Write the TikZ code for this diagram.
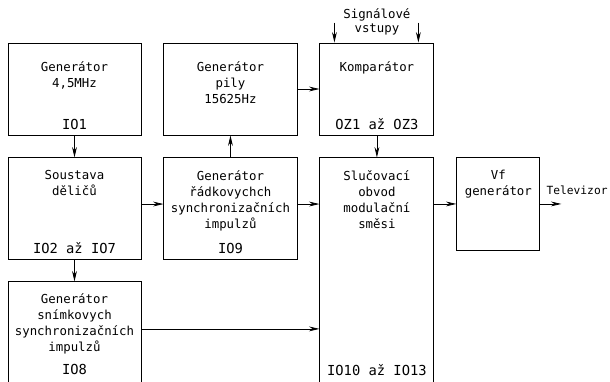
\documentclass[tikz,border=0pt]{standalone}
\usepackage{fontspec}
\newfontfamily\cadfont{DejaVu Sans Mono}
\usetikzlibrary{positioning,arrows.meta}

\begin{document}
\begin{tikzpicture}[
    x=0.025cm, y=-0.025cm,
    box/.style={rectangle, draw=black, line width=0.65pt, minimum width=3.325cm, minimum height=2.3cm, inner sep=0pt},
    txt/.style={font=\cadfont\fontsize{8.8}{11.4}\selectfont, align=center, inner sep=0pt, anchor=north},
    num/.style={font=\cadfont\fontsize{9.8}{12}\selectfont, inner sep=0pt, anchor=base},
    arrow/.style={-{Stealth[length=2.6mm, width=1.2mm]}, line width=0.55pt},
]
\useasboundingbox (0,0) rectangle (610,381);
\clip (0,0) rectangle (610,381);

% Top row
\node[box] (gen45) at (74.5,89) {};
\node[box, right=0.55cm of gen45] (pily) {};
\node[box, right=0.55cm of pily, minimum width=2.85cm] (komp) {};

% Middle row
\node[box, below=0.55cm of gen45, minimum height=2.525cm] (delice) {};
\node[box, below=0.55cm of pily, minimum height=2.525cm] (radkove) {};
\node[box, below=0.55cm of komp, minimum width=2.85cm, minimum height=5.875cm] (slucovac) {};
\node[box, right=0.55cm of slucovac.north east, anchor=north west, minimum width=2.075cm] (vf) {};

% Bottom row
\node[box, below=0.55cm of delice, minimum height=2.8cm] (snimkove) {};

% Texts in the boxes
\node[txt] (gen45t) at ([yshift=-0.46cm]gen45.north) {Generátor\\4,5MHz};
\node[num] (gen45n) at ([yshift=0.16cm]gen45.south) {IO1};

\node[txt] (pilyt) at ([yshift=-0.46cm]pily.north) {Generátor\\pily\\15625Hz};

\node[txt] (kompt) at ([yshift=-0.46cm]komp.north) {Komparátor};
\node[num] (kompn) at ([yshift=0.16cm]komp.south) {OZ1 až OZ3};

\node[txt] (delicet) at ([yshift=-0.31cm]delice.north) {Soustava\\děličů};
\node[num] (delicen) at ([yshift=0.16cm]delice.south) {IO2 až IO7};

\node[txt] (radkovet) at ([yshift=-0.31cm]radkove.north) {Generátor\\řádkovychch\\synchronizačních\\impulzů};
\node[num] (radkoven) at ([yshift=0.16cm]radkove.south) {IO9};

\node[txt] (snimkovet) at ([yshift=-0.29cm]snimkove.north) {Generátor\\snímkovych\\synchronizačních\\impulzů};
\node[num] (snimkoven) at ([yshift=-2.325cm]snimkove.north) {IO8};

\node[txt] (slucovact) at ([yshift=-0.31cm]slucovac.north) {Slučovací\\obvod\\modulační\\směsi};
\node[num] (slucovacn) at ([yshift=-5.45cm]slucovac.north) {IO10 až IO13};

\node[txt] (vft) at ([yshift=-0.31cm]vf.north) {Vf\\generátor};

% Signal inputs
\coordinate (vstup1) at ([xshift=0.375cm, yshift=0.5cm]komp.north west);
\coordinate (vstup2) at ([xshift=-0.4cm, yshift=0.5cm]komp.north east);
\node[txt, font=\cadfont\fontsize{8.8}{10}\selectfont] (signaly) at ([yshift=0.85cm]komp.north) {Signálové\\vstupy};

% Output
\coordinate (tv) at ([xshift=0.525cm]vf.east);
\node[txt, anchor=base west, font=\cadfont\fontsize{8}{10}\selectfont] (tvt) at ([xshift=0.15cm, yshift=0.225cm]vf.east) {Televizor};

% Arrows
\draw[arrow] (vstup1) -- (vstup1 |- komp.north);
\draw[arrow] (vstup2) -- (vstup2 |- komp.north);
\draw[arrow] (gen45) -- (delice);
\draw[arrow] (radkove) -- (pily);
\draw[arrow] (pily) -- (komp);
\draw[arrow] (komp) -- (slucovac);
\draw[arrow] (delice) -- (snimkove);
\draw[arrow] ([yshift=0.11cm]delice.east) -- ([yshift=0.11cm]radkove.west);
\draw[arrow] ([yshift=0.11cm]radkove.east) -- ([yshift=0.11cm]radkove.east -| slucovac.west);
\draw[arrow] ([yshift=0.225cm]snimkove.east) -- ([yshift=0.225cm]snimkove.east -| slucovac.west);
\draw[arrow] (slucovac.east |- vf.west) -- (vf.west);
\draw[arrow] (vf.east) -- (tv);

\end{tikzpicture}
\end{document}
